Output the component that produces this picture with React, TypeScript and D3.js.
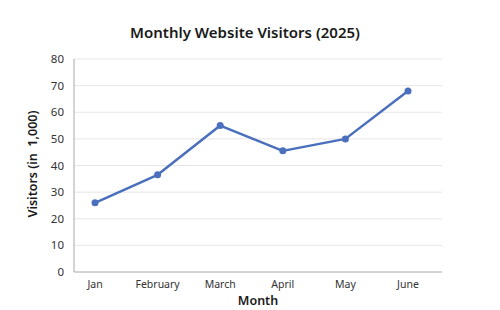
import React from "react";
import * as d3 from "d3";

const months = ["Jan", "February", "March", "April", "May", "June"];
const visitors = [26, 36.5, 55, 45.5, 50, 68];
const yTicks = [0, 10, 20, 30, 40, 50, 60, 70, 80];

const W = 500;
const H = 310;
const FONT = "'Noto Sans', 'Open Sans', sans-serif";

export default function App() {
  const x = d3.scalePoint<string>().domain(months).range([95, 408]);
  const y = d3.scaleLinear().domain([0, 80]).range([272, 59]);
  const line = d3
    .line<number>()
    .x((_, i) => x(months[i]) as number)
    .y((d) => y(d));
  const left = 74;
  const right = 442;
  return (
    <svg
      width={W}
      height={H}
      style={{ position: "absolute", left: 0, top: 0, background: "#fff" }}
      fontFamily={FONT}
    >
      <text x={245} y={38} textAnchor="middle" fontSize={15} fontWeight={600} fill="#1a1a1a">
        Monthly Website Visitors (2025)
      </text>
      {yTicks.map((t) => (
        <g key={t}>
          {t > 0 && (
            <line x1={left} x2={right} y1={y(t)} y2={y(t)} stroke="#e6e6e6" strokeWidth={1} />
          )}
          <text x={64} y={y(t)} dy="0.35em" textAnchor="end" fontSize={11.5} fill="#333">
            {t}
          </text>
        </g>
      ))}
      <line x1={left} x2={left} y1={y(80)} y2={y(0)} stroke="#aaa" strokeWidth={1} />
      <line x1={left} x2={right} y1={y(0)} y2={y(0)} stroke="#aaa" strokeWidth={1} />
      {months.map((m) => (
        <text key={m} x={x(m)} y={288} textAnchor="middle" fontSize={10.5} fill="#333">
          {m}
        </text>
      ))}
      <text x={258} y={305} textAnchor="middle" fontSize={12.5} fontWeight={600} fill="#1a1a1a">
        Month
      </text>
      <text
        transform={`translate(37, 164) rotate(-90)`}
        textAnchor="middle"
        fontSize={12.5}
        fontWeight={600}
        fill="#1a1a1a"
        style={{ whiteSpace: "pre" }}
      >
        {"Visitors (in  1,000)"}
      </text>
      <path d={line(visitors) || ""} fill="none" stroke="#4a6fbd" strokeWidth={2.5} strokeLinejoin="round" />
      {visitors.map((v, i) => (
        <circle key={i} cx={x(months[i])} cy={y(v)} r={3.5} fill="#4a6fbd" />
      ))}
    </svg>
  );
}
